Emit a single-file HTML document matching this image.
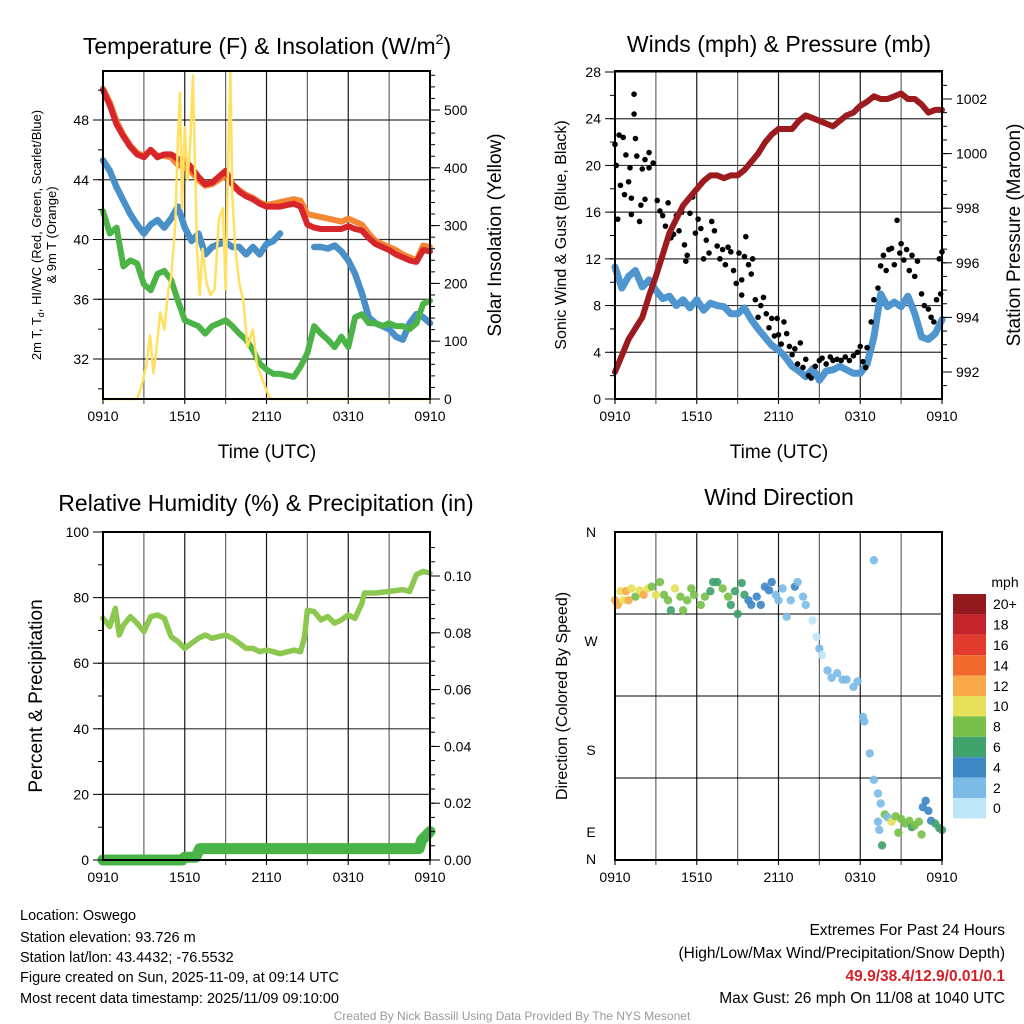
<!DOCTYPE html>
<html><head><meta charset="utf-8"><style>
html,body{margin:0;padding:0;background:#fff;}
svg{display:block;font-family:"Liberation Sans",Arial,sans-serif;}
</style></head><body>
<svg id="fig" width="1024" height="1024" viewBox="0 0 1024 1024" xmlns="http://www.w3.org/2000/svg">
<rect width="1024" height="1024" fill="#fff"/>
<g id="layer"></g>
<text x="267" y="54" font-size="23" text-anchor="middle">Temperature (F) &amp; Insolation (W/m<tspan font-size="14" dy="-10">2</tspan><tspan dy="10">)</tspan></text>
<text x="779" y="52" font-size="23" text-anchor="middle">Winds (mph) &amp; Pressure (mb)</text>
<text x="266" y="511" font-size="23" text-anchor="middle">Relative Humidity (%) &amp; Precipitation (in)</text>
<text x="779" y="505" font-size="23" text-anchor="middle">Wind Direction</text>
<text x="267" y="458" font-size="19" text-anchor="middle">Time (UTC)</text>
<text x="779" y="458" font-size="19" text-anchor="middle">Time (UTC)</text>
<text transform="translate(41,235) rotate(-90)" font-size="13" text-anchor="middle">2m T, T<tspan font-size="9" dy="3">d</tspan><tspan dy="-3">, HI/WC (Red, Green, Scarlet/Blue)</tspan></text>
<text transform="translate(56,235) rotate(-90)" font-size="13" text-anchor="middle">&amp; 9m T (Orange)</text>
<text transform="translate(501,235) rotate(-90)" font-size="19" text-anchor="middle">Solar Insolation (Yellow)</text>
<text transform="translate(566,235) rotate(-90)" font-size="16" text-anchor="middle">Sonic Wind &amp; Gust (Blue, Black)</text>
<text transform="translate(1020,235) rotate(-90)" font-size="19" text-anchor="middle">Station Pressure (Maroon)</text>
<text transform="translate(42,696) rotate(-90)" font-size="19" text-anchor="middle">Percent &amp; Precipitation</text>
<text transform="translate(567,696) rotate(-90)" font-size="16" text-anchor="middle">Direction (Colored By Speed)</text>
<g font-size="14.5">
<text x="20" y="920">Location: Oswego</text>
<text x="20" y="942">Station elevation: 93.726 m</text>
<text x="20" y="962">Station lat/lon: 43.4432; -76.5532</text>
<text x="20" y="982">Figure created on Sun, 2025-11-09, at 09:14 UTC</text>
<text x="20" y="1003">Most recent data timestamp: 2025/11/09 09:10:00</text>
</g>
<g font-size="15.5" text-anchor="end">
<text x="1005" y="935">Extremes For Past 24 Hours</text>
<text x="1005" y="958">(High/Low/Max Wind/Precipitation/Snow Depth)</text>
<text x="1005" y="981" fill="#d42027" font-weight="bold">49.9/38.4/12.9/0.01/0.1</text>
<text x="1005" y="1003">Max Gust: 26 mph On 11/08 at 1040 UTC</text>
</g>
<text x="512" y="1020" font-size="12" fill="#999" text-anchor="middle">Created By Nick Bassill Using Data Provided By The NYS Mesonet</text>
</svg>
<script>
const hours = [];
for (let i = 0; i <= 48; i++) hours.push(i / 2);
const xTickLabels = ["0910", "1510", "2110", "0310", "0910"];
const tempTicks = [32, 36, 40, 44, 48];
const solarTicks = [0, 100, 200, 300, 400, 500];
const windTicks = [0, 4, 8, 12, 16, 20, 24, 28];
const pressTicks = [992, 994, 996, 998, 1000, 1002];
const rhTicks = [0, 20, 40, 60, 80, 100];
const precipTicks = [0, 0.02, 0.04, 0.06, 0.08, 0.10];
const dirLabels = ["N", "W", "S", "E", "N"];

const tempRed = [50.0,49.0,47.7,46.9,46.2,45.7,45.5,46.0,45.5,45.7,45.7,45.4,45.3,44.8,44.2,43.7,43.8,44.2,44.6,43.7,43.2,42.9,42.7,42.4,42.2,42.2,42.2,42.3,42.4,42.2,41.0,40.8,40.7,40.7,40.7,40.7,40.9,40.7,40.6,40.1,39.7,39.5,39.3,39.0,38.8,38.6,38.5,39.3,39.2];
const tempOrange = [50.1,49.2,47.9,47.0,46.3,45.8,45.6,46.0,45.6,45.6,45.5,45.0,44.8,44.5,44.0,43.6,43.7,44.0,44.3,43.7,43.3,43.0,42.8,42.5,42.3,42.4,42.5,42.6,42.7,42.6,41.7,41.6,41.5,41.4,41.3,41.2,41.4,41.2,41.0,40.4,39.9,39.7,39.5,39.3,39.0,38.8,38.6,39.6,39.5];
const tempBlue = [45.3,44.6,43.5,42.6,41.7,41.0,40.4,41.0,41.3,40.8,41.4,42.2,40.8,39.9,40.4,39.0,39.5,39.7,39.8,39.5,39.5,39.0,39.5,39.0,39.7,39.9,40.4,null,40.4,null,null,39.5,39.5,39.4,39.6,39.2,38.6,37.7,36.4,34.8,34.4,34.2,34.0,33.5,33.3,34.4,35.0,34.8,34.4];
const tempGreen = [41.9,40.4,40.8,38.2,38.6,38.4,37.0,36.6,37.7,37.9,37.3,35.9,34.6,34.4,34.2,33.7,34.2,34.4,34.6,34.2,33.7,33.3,32.6,31.7,31.3,31.0,31.0,30.9,30.8,31.5,32.4,34.2,33.7,33.3,32.8,33.5,32.8,34.8,35.0,34.4,34.4,34.2,34.4,34.2,34.2,34.0,34.4,35.7,35.9];
const solarTimes = [0,2.5,2.8,3.2,3.45,3.7,3.9,4.2,4.5,4.8,5.0,5.3,5.5,5.65,5.8,6.0,6.2,6.4,6.6,6.9,7.1,7.3,7.6,7.9,8.2,8.5,8.8,9.0,9.2,9.35,9.5,9.7,10.0,10.3,10.6,11.0,11.3,11.6,12.0,12.3,24];
const solarValues = [0,0,20,60,110,45,80,150,120,190,210,300,450,530,330,470,380,440,560,260,180,260,200,180,190,310,330,190,420,565,350,260,200,170,90,120,60,40,15,0,0];

const pressure = [992.0,992.6,993.2,993.6,994.0,994.8,995.5,996.3,997.1,997.6,998.1,998.4,998.7,999.0,999.2,999.2,999.1,999.2,999.2,999.4,999.7,1000.0,1000.4,1000.7,1000.9,1000.9,1000.9,1001.2,1001.4,1001.3,1001.2,1001.1,1001.0,1001.2,1001.4,1001.5,1001.75,1001.9,1002.1,1002.0,1002.0,1002.1,1002.2,1002.0,1002.0,1001.8,1001.5,1001.6,1001.6];
const sonicWind = [11.3,9.5,10.5,11.0,9.6,10.2,9.3,8.6,8.8,8.0,8.5,7.8,8.5,7.6,8.2,8.0,7.9,7.3,7.3,7.8,6.8,6.0,5.3,4.6,4.2,3.6,2.8,2.4,1.9,2.6,1.6,2.4,2.5,2.8,2.5,2.2,2.2,3.0,5.3,9.0,7.9,8.3,7.9,8.8,7.3,5.3,5.1,5.6,6.8];
const gustTimes = [0,0.1,0.3,0.4,0.6,0.7,0.8,1.0,1.1,1.2,1.4,1.4,1.5,1.6,1.8,1.9,2.0,2.2,2.5,2.5,2.8,0.2,1.2,2.2,3.1,3.3,3.5,3.7,3.9,4.1,4.3,4.5,4.7,4.9,5.1,5.3,5.5,5.7,5.2,5.9,6.1,6.3,6.5,6.7,6.9,7.1,7.3,7.5,7.7,7.9,8.1,8.3,8.5,8.7,8.9,9.1,9.3,9.5,9.3,9.6,9.8,10.0,10.1,10.3,10.5,10.7,10.9,11.1,11.3,11.5,11.7,11.9,12.0,12.2,12.4,12.6,12.8,13.0,13.2,13.4,13.6,13.8,14.0,14.2,14.4,14.7,15.0,15.2,15.5,15.8,16.0,16.3,16.6,16.9,17.2,17.5,17.8,18.0,18.2,18.4,18.5,18.8,19.0,19.3,19.5,19.7,19.9,20.1,20.3,20.5,20.7,20.9,21.0,21.2,21.4,21.6,21.8,22.0,22.2,22.5,22.7,23.0,23.2,23.4,23.6,23.8,24.0,23.9];
const gustValues = [21.8,20.0,22.6,18.3,22.4,17.5,20.9,18.6,19.8,17.2,26.1,24.4,22.3,20.8,15.2,16.6,19.7,20.5,21.1,19.8,20.2,15.4,15.8,17.1,17.0,16.1,15.7,14.8,16.8,13.8,14.1,15.7,14.4,16.0,13.2,12.3,15.9,17.3,11.8,14.2,15.4,14.6,12.0,13.6,12.5,15.2,14.4,13.1,12.0,12.8,11.5,13.0,12.6,11.0,9.9,12.5,10.2,12.2,8.9,13.9,11.5,10.7,12.0,8.5,7.0,8.0,8.7,7.3,6.1,6.9,5.4,6.9,5.5,4.7,6.6,5.6,4.5,3.8,4.3,3.0,4.8,2.7,3.4,2.0,1.8,2.8,3.3,3.5,3.0,3.6,3.3,3.4,3.3,3.6,3.3,3.7,4.0,4.5,3.2,2.7,4.4,6.6,8.5,9.5,11.4,12.3,11.0,12.8,12.9,11.5,15.3,12.5,13.3,11.9,12.8,11.0,12.3,10.5,11.8,9.0,8.0,7.7,7.0,6.6,8.5,12.0,12.6,9.0];

const rhTimes = [0,0.5,0.9,1.2,1.5,2,2.5,3,3.5,4,4.5,5,5.5,6,6.5,7,7.5,8,8.5,9,9.5,10,10.5,11,11.5,12,12.5,13,14,14.5,14.8,15,15.5,16,16.5,17,17.5,18,18.5,19,19.2,20,21,22,22.5,23,23.5,24];
const rhValues = [73.7,71.2,76.7,68.6,71.6,74.2,72.2,69.6,74.2,74.7,73.7,68.1,66.6,64.5,66.1,67.6,68.6,67.6,68.1,68.6,67.6,66.1,64.5,64.5,63.5,64.0,63.5,62.9,64.0,63.5,68.1,76.2,75.7,73.2,74.2,72.2,73.2,74.7,73.7,78.3,81.4,81.4,81.9,82.4,81.9,87.0,88.0,87.5];
const precipTimes = [0,5.8,6.0,6.8,7.1,23.2,23.4,23.8,24];
const precipValues = [0,0,0.001,0.001,0.004,0.004,0.007,0.009,0.010];

const dirTimes = [0,0.2,0.4,0.6,0.8,1.0,1.2,1.5,1.8,2.1,2.4,2.7,3.0,3.3,3.6,3.9,4.1,4.4,4.8,5.0,5.3,5.6,5.8,6.3,6.6,7.0,7.2,7.5,7.9,8.3,8.5,8.8,9.0,9.3,9.5,9.8,10.0,10.4,10.7,11.0,11.3,11.5,11.8,12.0,12.3,12.6,12.9,13.2,13.4,13.8,14.0,14.5,14.8,15.0,15.2,15.6,15.9,16.3,16.7,17.0,17.5,17.8,18.2,18.3,18.7,19.0,19.0,19.3,19.5,19.3,19.4,19.6,19.8,20.0,20.3,20.6,21.0,21.3,21.6,21.8,22.0,22.3,22.6,22.8,23.0,23.2,23.5,23.8,24.0,22.5,20.8];
const dirValues = [285,280,295,285,295,285,298,289,296,291,298,300,291,305,291,285,274,298,289,274,285,298,291,280,289,295,305,305,298,289,280,295,270,304,291,285,280,289,280,300,296,305,291,285,298,267,285,300,305,289,280,263,245,232,225,208,200,205,198,198,190,196,157,152,117,329,88,73,62,42,33,16,50,47,42,48,45,40,43,36,38,42,58,65,54,43,40,35,33,28,30];
const dirSpeeds = [12,12,10,10,12,13,10,8,10,12,10,8,10,8,8,8,7,10,8,8,8,8,9,8,8,7,7,7,8,8,6,7,7,6,7,4,4,4,5,4,4,4,3,2,3,2,2,4,2,3,2,1,1,2,1,2,2,2,2,2,2,2,2,2,2,3,2,2,3,2,3,6,8,2,10,8,8,8,8,7,8,8,4,4,4,4,6,6,6,8,8];
const speedBins = ["0","2","4","6","8","10","12","14","16","18","20+"];
const speedColors = ["#bfe6f8","#7dbbe7","#3f88c6","#40a36c","#78c04a","#e6e05a","#f8aa4b","#f16a2d","#e13b2d","#c3232a","#921a1e"];

const NS = "http://www.w3.org/2000/svg";
const layer = document.getElementById("layer");
function mk(tag, attrs, parent) {
  const e = document.createElementNS(NS, tag);
  for (const k in attrs) e.setAttribute(k, attrs[k]);
  (parent || layer).appendChild(e);
  return e;
}
function lin(d0, d1, r0, r1) { return v => r0 + (v - d0) * (r1 - r0) / (d1 - d0); }
function pathFrom(ts, vs, xf, yf) {
  let d = "", pen = false;
  for (let i = 0; i < ts.length; i++) {
    if (vs[i] === null) { pen = false; continue; }
    d += (pen ? "L" : "M") + xf(ts[i]).toFixed(1) + " " + yf(vs[i]).toFixed(1);
    pen = true;
  }
  return d;
}
function series(ts, vs, xf, yf, color, w, name) {
  const p = mk("path", { d: pathFrom(ts, vs, xf, yf), fill: "none", stroke: color, "stroke-width": w, "stroke-linejoin": "round", "stroke-linecap": "round" });
  
  
  return p;
}
function frame(x0, x1, y0, y1, name) {
  const xf = lin(0, 24, x0, x1);
  for (let h = 0; h <= 24; h += 3) {
    const g = mk("line", { x1: xf(h), x2: xf(h), y1: y0, y2: y1 + 5, stroke: "#000", "stroke-width": 1.2, "stroke-opacity": h % 6 === 0 ? 0.9 : 0.6 });
    
    
  }
  for (let i = 0; i < xTickLabels.length; i++) {
    const t = mk("text", { x: xf(i * 6), y: y1 + 22, "font-size": 14, "text-anchor": "middle" });
    t.textContent = xTickLabels[i];
    
    
  }
  return xf;
}
function hgrid(x0, x1, ys, name) {
  ys.forEach(y => {
    const g = mk("line", { x1: x0, x2: x1, y1: y, y2: y, stroke: "#000", "stroke-width": 1.2, "stroke-opacity": 0.8 });
    
    
  });
}
function yTicks(ticks, yf, x, side, fmt, name, minorStep, lo, hi) {
  const dir = side === "left" ? -1 : 1;
  if (minorStep) {
    for (let v = lo; v <= hi + 1e-9; v += minorStep) {
      const y = yf(v);
      mk("line", { x1: x, x2: x + dir * 5, y1: y, y2: y, stroke: "#000", "stroke-width": 1 });
    }
  }
  ticks.forEach(v => {
    const y = yf(v);
    mk("line", { x1: x, x2: x + dir * 10, y1: y, y2: y, stroke: "#000", "stroke-width": 1 });
    const t = mk("text", { x: x + dir * 14, y: y + 5, "font-size": 14, "text-anchor": side === "left" ? "end" : "start" });
    t.textContent = fmt(v);
    
    
  });
}
function box(x0, x1, y0, y1, name) {
  const r = mk("rect", { x: x0, y: y0, width: x1 - x0, height: y1 - y0, fill: "none", stroke: "#000", "stroke-width": 2 });
  
  
}

{
  const x0 = 103, x1 = 430, y0 = 71, y1 = 399;
  const yT = lin(32, 48, 359, 120);
  const yS = lin(0, 500, 399, 110);
  const xf = frame(x0, x1, y0, y1, "temp");
  hgrid(x0, x1, tempTicks.map(yT), "temp");
  series(hours, tempBlue, xf, yT, "#4a90c8", 6.5, "heat-index-line");
  series(hours, tempGreen, xf, yT, "#4cb447", 6, "dewpoint-line");
  series(hours, tempOrange, xf, yT, "#f58634", 6, "temp-9m-line");
  series(hours, tempRed, xf, yT, "#d7262b", 6, "temp-2m-line");
  series(solarTimes, solarValues, xf, yS, "#ffe060", 2.5, "solar-insolation-line");
  box(x0, x1, y0, y1, "temp-plot-frame");
  yTicks(tempTicks, yT, x0, "left", v => v, "temp-y", 2, 30, 50);
  yTicks(solarTicks, yS, x1, "right", v => v, "solar-y", 20, 0, 560);
}
{
  const x0 = 615, x1 = 942, y0 = 71, y1 = 399;
  const yW = lin(0, 28, 399, 72);
  const yP = lin(992, 1002, 372, 99);
  const xf = frame(x0, x1, y0, y1, "wind");
  hgrid(x0, x1, windTicks.map(yW), "wind");
  series(hours, sonicWind, xf, yW, "#4f96d0", 7, "sonic-wind-line");
  for (let i = 0; i < gustTimes.length; i++) {
    const c = mk("circle", { cx: xf(gustTimes[i]), cy: yW(gustValues[i]), r: 2.8, fill: "#000" });
    
    
  }
  series(hours, pressure, xf, yP, "#9b1b1e", 6, "pressure-line");
  box(x0, x1, y0, y1, "wind-plot-frame");
  yTicks(windTicks, yW, x0, "left", v => v, "wind-y", 2, 0, 28);
  yTicks(pressTicks, yP, x1, "right", v => v, "pressure-y", 0.5, 991.5, 1002.5);
}
{
  const x0 = 103, x1 = 430, y0 = 532, y1 = 860;
  const yR = lin(0, 100, 860, 532);
  const yPr = lin(0, 0.10, 860, 576);
  const xf = frame(x0, x1, y0, y1, "rh");
  hgrid(x0, x1, rhTicks.map(yR), "rh");
  series(rhTimes, rhValues, xf, yR, "#8cc850", 5.5, "relative-humidity-line");
  series(precipTimes, precipValues, xf, yPr, "#48b447", 11, "precipitation-line");
  box(x0, x1, y0, y1, "rh-plot-frame");
  yTicks(rhTicks, yR, x0, "left", v => v, "rh-y", 10, 0, 100);
  yTicks(precipTicks, yPr, x1, "right", v => v.toFixed(2), "precip-y", 0.005, 0, 0.11);
}
{
  const x0 = 615, x1 = 942, y0 = 532, y1 = 860;
  const yD = lin(0, 360, 860, 532);
  const xf = frame(x0, x1, y0, y1, "dir");
  hgrid(x0, x1, [0, 90, 180, 270, 360].map(yD), "dir");
  const labelY = [537, 646, 755, 837, 864];
  dirLabels.forEach((l, i) => {
    const t = mk("text", { x: 591, y: labelY[i], "font-size": 14, "text-anchor": "middle" });
    t.textContent = l;
    
    
  });
  for (let i = 0; i < dirTimes.length; i++) {
    const bin = Math.min(10, Math.floor(dirSpeeds[i] / 2));
    const c = mk("circle", { cx: xf(dirTimes[i]), cy: yD(dirValues[i]), r: 4.2, fill: speedColors[bin], "fill-opacity": 0.92 });
    
    
  }
  box(x0, x1, y0, y1, "dir-plot-frame");
  const mph = mk("text", { x: 1005, y: 587, "font-size": 14, "text-anchor": "middle" });
  mph.textContent = "mph";
  
  
  const bh = 20.4, top = 594;
  for (let i = 0; i < speedBins.length; i++) {
    const k = speedBins.length - 1 - i;
    const r = mk("rect", { x: 953, y: top + i * bh, width: 33, height: bh, fill: speedColors[k] });
    
    
    const t = mk("text", { x: 993, y: top + i * bh + bh / 2 + 5, "font-size": 14 });
    t.textContent = speedBins[k];
    
    
  }
}
</script>
</body></html>
